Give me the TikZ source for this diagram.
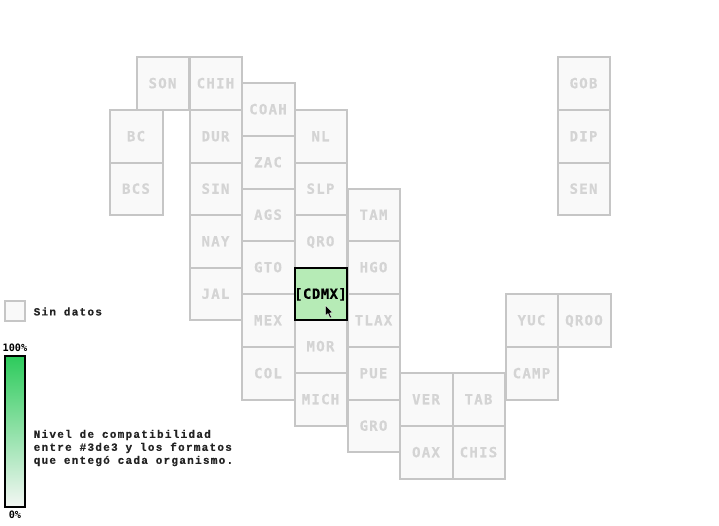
\documentclass[tikz,border=0pt]{standalone}
\usepackage{fontspec}
\setmonofont{DejaVu Sans Mono}
\newfontfamily\cellfont[LetterSpace=9,FakeBold=0.4]{DejaVu Sans Mono}
\newfontfamily\activefont[LetterSpace=3,FakeBold=0.4]{DejaVu Sans Mono}
\newfontfamily\legfont[LetterSpace=11.5,FakeBold=0.5]{Liberation Mono}
\definecolor{cellline}{HTML}{C6C6C6}
\definecolor{cellfill}{HTML}{F9F9F9}
\definecolor{celltext}{HTML}{D4D4D4}
\definecolor{activefill}{HTML}{B6EBB6}
\definecolor{topgreen}{HTML}{2DCB5C}
\definecolor{midgreen}{HTML}{9DE3AC}
\definecolor{botgrey}{HTML}{F4F7F4}
\definecolor{legtext}{HTML}{222222}
\tikzset{
  x=1pt,y=-1pt,
  cell/.style={draw=cellline,fill=cellfill,line width=2pt,minimum width=52.6pt,minimum height=52.6pt,
    inner sep=0pt,outer sep=0pt,text=celltext,font=\cellfont\bfseries\fontsize{14}{14}\selectfont,anchor=center,text height=9.5pt,text depth=0pt},
  active/.style={cell,draw=black,fill=activefill,text=black,font=\activefont\bfseries\fontsize{14}{14}\selectfont},
  legendlabel/.style={anchor=west,inner sep=0pt,align=left,text=legtext,font=\legfont\bfseries\fontsize{11}{13}\selectfont},
  scaletext/.style={anchor=center,inner sep=0pt,text=black,font=\ttfamily\bfseries\fontsize{10.2}{10}\selectfont}
}
\begin{document}
\begin{tikzpicture}
\useasboundingbox (0,0) rectangle (719,525);
\foreach \n/\cx/\cy in {
  SON/163/83.5,CHIH/216/83.5,
  BC/136.5/136.5,BCS/136.5/189,
  DUR/216/136.5,SIN/216/189,NAY/216/241.5,JAL/216/294,
  COAH/268.5/109.5,ZAC/268.5/162.5,AGS/268.5/215,GTO/268.5/267.5,MEX/268.5/320.5,COL/268.5/373.5,
  NL/321/136.5,SLP/321/189,QRO/321/241.5,MOR/321/346.5,MICH/321/399.5,
  TAM/374/215,HGO/374/267.5,TLAX/374/320.5,PUE/374/373.5,GRO/374/426,
  VER/426.5/399.5,OAX/426.5/452.5,TAB/479/399.5,CHIS/479/452.5,
  CAMP/532/373.5,YUC/532/320.5,QROO/584.5/320.5,
  GOB/584/83.5,DIP/584/136.5,SEN/584/189}
  \node[cell] (\n) at (\cx,\cy) {\hspace*{-1pt}\n};
\node[active] (CDMX) at (321,294) {\hspace*{-1pt}[CDMX]};
% cursor
\fill[black,draw=white,line width=0.3pt] (325.5,305.5) -- (325.5,315.5) -- (328,313.5) -- (330,318) -- (331.5,317.3) -- (329.6,313) -- (332.5,312.5) -- cycle;
% legend
\node[cell,minimum width=20pt,minimum height=20pt] (nodata) at (14.5,311) {};
\node[legendlabel] (nodatatext) at (33.5,311.5) {Sin datos};
\shade[top color=topgreen,middle color=midgreen,bottom color=botgrey] (5,356) rectangle (25,507);
\draw[black,line width=2pt] (5,356) rectangle (25,507);
\node[scaletext] (maxlabel) at (15,348) {100\%};
\node[scaletext] (minlabel) at (15,514.5) {0\%};
\node[legendlabel] (legendnote) at (33.5,448) {Nivel de compatibilidad\\entre \#3de3 y los formatos\\que entegó cada organismo.};
\end{tikzpicture}
\end{document}
